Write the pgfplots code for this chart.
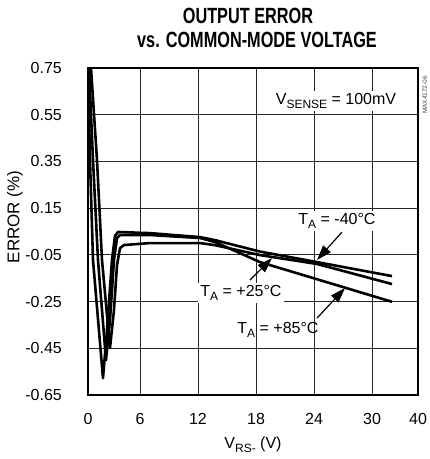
\documentclass[border=0pt]{standalone}
\usepackage{pgfplots}
\pgfplotsset{compat=1.18}
\usepackage{fontspec}
\setmainfont{Liberation Sans}
\newfontfamily\titlefont{Liberation Sans}[FakeStretch=0.74]
\usetikzlibrary{arrows.meta}
\newcommand{\sub}[1]{\raisebox{-0.28em}{\fontsize{12bp}{12bp}\selectfont #1}}
\begin{document}
\begin{tikzpicture}
\useasboundingbox (-88bp,-64bp) rectangle (342bp,395bp);
\begin{axis}[
  scale only axis,
  width=330bp, height=327bp,
  xmin=0.621, xmax=34.758, ymin=-0.65, ymax=0.75,
  xtick={0.621,6,12,18,24,30,34.758},
  xticklabels={0,6,12,18,24,30,40},
  ytick={-0.65,-0.45,-0.25,-0.05,0.15,0.35,0.55,0.75},
  yticklabels={-0.65,-0.45,-0.25,-0.05,0.15,0.35,0.55,0.75},
  major tick length=0pt,
  grid=major,
  major grid style={line width=0.8bp, black!85},
  axis line style={line width=2.6bp},
  tick label style={font=\fontsize{16bp}{16bp}\selectfont, inner sep=0pt},
  yticklabel style={anchor=east, xshift=-26bp},
  xticklabel style={anchor=north, yshift=-18bp},
  clip=true,
]
\addplot[black, line width=2.6bp, line join=round] coordinates {
(0.621,0.75)(0.828,0.356)(1.138,-0.072)(2.172,-0.578)(2.586,-0.372)(3.103,-0.072)(3.414,0.031)(3.724,0.048)(7.034,0.043)(12.207,0.026)(13.759,0.013)(18.414,-0.036)(24.31,-0.081)(32.069,-0.141)
};
\addplot[black, line width=2.6bp, line join=round] coordinates {
(0.931,0.75)(1.552,0.356)(2.069,-0.072)(2.897,-0.449)(3.310,-0.286)(3.621,-0.094)(3.931,-0.021)(4.345,-0.008)(7.034,0.0005)(12.207,0.0005)(13.759,-0.0085)(18.414,-0.051)(24.31,-0.089)(32.069,-0.175)
};
\addplot[black, line width=2.6bp, line join=round] coordinates {
(0.724,0.75)(1.138,0.356)(1.655,-0.072)(2.483,-0.501)(2.897,-0.329)(3.310,-0.072)(3.621,0.022)(3.931,0.035)(7.034,0.035)(12.207,0.022)(13.759,0.005)(18.414,-0.081)(32.069,-0.251)
};
\tikzset{lbl/.style={fill=white, inner sep=2bp, font=\fontsize{16bp}{16bp}\selectfont}}
\node[lbl] at (axis cs:26.276,0.609) {V\sub{SENSE} = 100mV};
\node[lbl] at (axis cs:26.379,0.0947) {T\sub{A} = -40°C};
\node[lbl] at (axis cs:16.448,-0.2136) {T\sub{A} = +25°C};
\node[lbl, fill=none] at (axis cs:20.276,-0.372) {T\sub{A} = +85°C};
\draw[line width=1.2bp, -{Triangle[length=15bp,width=10bp]}] (axis cs:26.897,0.0476) -- (axis cs:24.310,-0.072);
\draw[line width=1.2bp, -{Triangle[length=15bp,width=10bp]}] (axis cs:17.379,-0.158) -- (axis cs:19.655,-0.064);
\draw[line width=1.2bp, -{Triangle[length=15bp,width=10bp]}] (axis cs:24.310,-0.321) -- (axis cs:27.207,-0.192);
\end{axis}
\node[rotate=90, font=\fontsize{17bp}{17bp}\selectfont] at (-73bp,178bp) {ERROR (\%)};
\node[font=\fontsize{16bp}{16bp}\selectfont] at (165bp,-50bp) {V\sub{RS-} (V)};
\node[font=\titlefont\bfseries\fontsize{22bp}{22bp}\selectfont] at (160bp,379bp) {OUTPUT ERROR};
\node[font=\titlefont\bfseries\fontsize{22bp}{22bp}\selectfont] at (169bp,355bp) {vs. COMMON-MODE VOLTAGE};
\node[rotate=90, font=\fontsize{6.5bp}{6.5bp}\selectfont, text=black!70] at (337bp,300bp) {MAX4172-06};
\end{tikzpicture}
\end{document}
